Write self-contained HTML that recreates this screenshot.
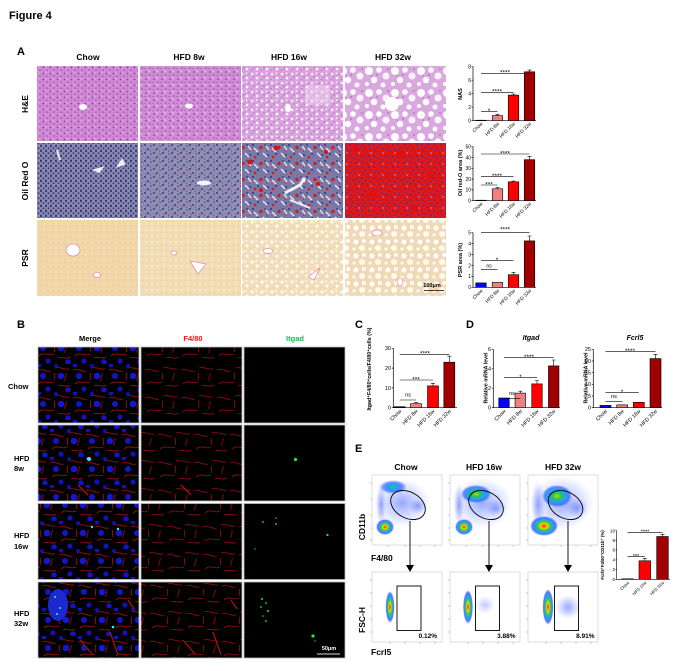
<!DOCTYPE html>
<html><head><meta charset="utf-8"><style>
html,body{margin:0;padding:0;background:#fff;}
svg{display:block;}
text{font-family:"Liberation Sans",Arial,sans-serif;}
</style></head><body>
<svg width="678" height="671" viewBox="0 0 678 671" xmlns="http://www.w3.org/2000/svg" xmlns:xlink="http://www.w3.org/1999/xlink">
<defs>
<pattern id="he1" width="7" height="6" patternUnits="userSpaceOnUse">
<rect width="7" height="6" fill="#d08ad5"/>
<circle cx="1.5" cy="1.5" r="0.9" fill="#8d3f9f"/><circle cx="5" cy="4" r="0.8" fill="#9b4cae"/>
<circle cx="4" cy="1" r="0.6" fill="#f0c6f1"/><circle cx="1" cy="4.8" r="0.5" fill="#a458b4"/>
</pattern>
<pattern id="he2" width="8" height="7" patternUnits="userSpaceOnUse">
<rect width="8" height="7" fill="#d08cd6"/>
<circle cx="2" cy="2" r="0.9" fill="#8d3f9f"/><circle cx="6" cy="5" r="0.8" fill="#9b4cae"/>
<circle cx="5" cy="1" r="0.7" fill="#f6dcf7"/><circle cx="1" cy="5.5" r="0.6" fill="#a458b4"/>
</pattern>
<pattern id="he3" width="10" height="9" patternUnits="userSpaceOnUse">
<rect width="10" height="9" fill="#d9a2de"/>
<circle cx="2" cy="2" r="1.3" fill="#fbeefc"/><circle cx="7" cy="6" r="1.3" fill="#fff"/>
<circle cx="6.5" cy="1.2" r="0.8" fill="#fff"/><circle cx="4" cy="5" r="0.6" fill="#9c52ad"/>
<circle cx="9" cy="2.5" r="0.5" fill="#9c52ad"/><circle cx="1.5" cy="7.5" r="0.5" fill="#a45ab4"/>
</pattern>
<pattern id="he4" width="26" height="22" patternUnits="userSpaceOnUse">
<rect width="26" height="22" fill="#d9a8df"/>
<circle cx="5" cy="5" r="4" fill="#fff"/><circle cx="15" cy="4" r="2.8" fill="#fff"/>
<circle cx="22" cy="10" r="3.5" fill="#fbf3fc"/><circle cx="10" cy="14" r="3.2" fill="#fff"/>
<circle cx="3" cy="18" r="2" fill="#fff"/><circle cx="19" cy="19" r="2.5" fill="#fff"/>
<circle cx="13" cy="9" r="0.7" fill="#9a50a8"/><circle cx="24" cy="3" r="0.7" fill="#9a50a8"/>
<circle cx="7" cy="10" r="0.6" fill="#9a50a8"/>
</pattern>
<pattern id="or1" width="5" height="5" patternUnits="userSpaceOnUse">
<rect width="5" height="5" fill="#8a8bb4"/>
<circle cx="1" cy="1" r="1.1" fill="#36376e"/><circle cx="3.5" cy="3.2" r="1" fill="#3d3e78"/>
<circle cx="1" cy="4.2" r="0.5" fill="#40417a"/>
</pattern>
<pattern id="or2" width="9" height="8" patternUnits="userSpaceOnUse">
<rect width="9" height="8" fill="#8e8eb6"/>
<circle cx="1" cy="1" r="1" fill="#3c3d75"/><circle cx="4" cy="5" r="1" fill="#3c3d75"/>
<circle cx="7" cy="2" r="0.8" fill="#44457c"/><circle cx="2" cy="6.5" r="0.6" fill="#44457c"/>
<circle cx="6.5" cy="7" r="0.6" fill="#d82020"/><circle cx="8.2" cy="4.5" r="0.4" fill="#e03030"/>
</pattern>
<pattern id="or3" width="18" height="16" patternUnits="userSpaceOnUse">
<rect width="18" height="16" fill="#7a78a6"/>
<circle cx="1" cy="1" r="1" fill="#35366e"/><circle cx="6" cy="10" r="1" fill="#35366e"/>
<circle cx="13" cy="1" r="0.9" fill="#3c3d75"/><circle cx="16" cy="11" r="1" fill="#3c3d75"/>
<path d="M2 4 L6 8 M11 9 L15 13 M14 2 L17 6" stroke="#ececf4" stroke-width="1.3"/>
<circle cx="9" cy="3.5" r="1.7" fill="#e01818"/><circle cx="3" cy="13" r="1.3" fill="#e01818"/>
<circle cx="15.5" cy="7" r="0.8" fill="#e02020"/>
</pattern>
<pattern id="or4" width="12" height="11" patternUnits="userSpaceOnUse">
<rect width="12" height="11" fill="#e31616"/>
<circle cx="2" cy="2" r="0.9" fill="#3434a8"/><circle cx="5" cy="4.5" r="0.8" fill="#3a3aaa"/>
<circle cx="9" cy="2" r="0.9" fill="#3434a8"/><circle cx="3" cy="8" r="0.9" fill="#3a3aaa"/>
<circle cx="7.5" cy="9" r="0.8" fill="#3434a8"/><circle cx="10.5" cy="6" r="0.9" fill="#3a3aaa"/>
<circle cx="0.8" cy="5" r="0.6" fill="#4a4ab0"/><circle cx="11" cy="10" r="0.6" fill="#d8c8e8"/>
</pattern>
<pattern id="ps1" width="6" height="6" patternUnits="userSpaceOnUse">
<rect width="6" height="6" fill="#f1d7a8"/><circle cx="2" cy="2" r="0.8" fill="#f7e6c6"/><circle cx="5" cy="4" r="0.6" fill="#e8c58f"/>
</pattern>
<pattern id="ps2" width="6" height="6" patternUnits="userSpaceOnUse">
<rect width="6" height="6" fill="#f2dcb4"/><circle cx="2" cy="2" r="0.9" fill="#fbf0de"/><circle cx="5" cy="4.5" r="0.6" fill="#e9c995"/>
</pattern>
<pattern id="ps3" width="10" height="10" patternUnits="userSpaceOnUse">
<rect width="10" height="10" fill="#f2ddb9"/><circle cx="2" cy="2" r="1.5" fill="#fff"/><circle cx="7" cy="6" r="1.5" fill="#fff"/>
<circle cx="6" cy="1" r="1" fill="#fffaf2"/><circle cx="3" cy="7.5" r="0.5" fill="#e8c593"/>
</pattern>
<pattern id="ps4" width="16" height="14" patternUnits="userSpaceOnUse">
<rect width="16" height="14" fill="#f0dab6"/><circle cx="4" cy="4" r="2.5" fill="#fff"/><circle cx="12" cy="3" r="2" fill="#fff"/>
<circle cx="10" cy="10" r="3" fill="#fffaf3"/><circle cx="2" cy="11" r="1.5" fill="#fff"/><circle cx="8" cy="6" r="0.4" fill="#e39a9a"/>
</pattern>
<pattern id="mg" width="36" height="28" patternUnits="userSpaceOnUse">
<rect width="36" height="28" fill="#000"/>
<path d="M1 6 C6 3 10 9 15 7 M19 4 C24 2 28 6 33 5 M3 20 C8 15 13 21 18 18 M22 22 C27 20 30 24 34 21 M18 9 C20 11 17 14 19 16 M30 9 C31 12 28 14 29 17" stroke="#9a0e0e" stroke-width="0.9" fill="none"/>
<circle cx="7" cy="12" r="3" fill="#1414c8"/><circle cx="25" cy="12" r="3.3" fill="#1616d0"/>
<circle cx="12" cy="25" r="2.6" fill="#1212b8"/><circle cx="32" cy="26" r="2.8" fill="#1414c4"/>
<circle cx="3" cy="1" r="2.4" fill="#1212b8"/><circle cx="20" cy="2" r="2" fill="#1010b0"/>
</pattern>
<pattern id="mg2" xlink:href="#mg" href="#mg" patternTransform="translate(13,9)"/>
<pattern id="mg3" xlink:href="#mg" href="#mg" patternTransform="translate(22,17)"/>
<pattern id="mg4" xlink:href="#mg" href="#mg" patternTransform="translate(5,20)"/>
<pattern id="rd" width="36" height="28" patternUnits="userSpaceOnUse">
<rect width="36" height="28" fill="#000"/>
<path d="M1 6 C6 3 10 9 15 7 M19 4 C24 2 28 6 33 5 M3 20 C8 15 13 21 18 18 M22 22 C27 20 30 24 34 21 M18 9 C20 11 17 14 19 16 M30 9 C31 12 28 14 29 17" stroke="#8a0c0c" stroke-width="0.9" fill="none"/>
</pattern>
<pattern id="rd2" xlink:href="#rd" href="#rd" patternTransform="translate(13,9)"/>
<pattern id="rd3" xlink:href="#rd" href="#rd" patternTransform="translate(22,17)"/>
<pattern id="rd4" xlink:href="#rd" href="#rd" patternTransform="translate(5,20)"/>
<radialGradient id="hot">
<stop offset="0" stop-color="#ff2000"/><stop offset="0.25" stop-color="#ffcc00"/><stop offset="0.45" stop-color="#30d040"/>
<stop offset="0.65" stop-color="#20a0ff"/><stop offset="0.85" stop-color="#2040ff" stop-opacity="0.7"/><stop offset="1" stop-color="#4060ff" stop-opacity="0"/>
</radialGradient>
<radialGradient id="cool">
<stop offset="0" stop-color="#30c070"/><stop offset="0.35" stop-color="#20a0ff"/>
<stop offset="0.7" stop-color="#2050ff" stop-opacity="0.6"/><stop offset="1" stop-color="#4060ff" stop-opacity="0"/>
</radialGradient>
<radialGradient id="grn">
<stop offset="0" stop-color="#a0e020"/><stop offset="0.3" stop-color="#30c050"/><stop offset="0.6" stop-color="#20a0ff"/>
<stop offset="0.85" stop-color="#2050ff" stop-opacity="0.6"/><stop offset="1" stop-color="#4060ff" stop-opacity="0"/>
</radialGradient>
<radialGradient id="dif">
<stop offset="0" stop-color="#3050ff" stop-opacity="0.5"/><stop offset="1" stop-color="#5070ff" stop-opacity="0"/>
</radialGradient>
</defs>

<!-- Title -->
<text x="9" y="19" font-size="11" font-weight="bold">Figure 4</text>
<text x="17" y="55" font-size="11" font-weight="bold">A</text>
<g font-size="8.5" font-weight="bold" text-anchor="middle">
<text x="88" y="60">Chow</text><text x="189" y="60">HFD 8w</text><text x="289" y="60">HFD 16w</text><text x="393" y="60">HFD 32w</text>
</g>
<g font-size="8.5" font-weight="bold" text-anchor="middle">
<text transform="translate(28,104) rotate(-90)">H&amp;E</text>
<text transform="translate(28,181) rotate(-90)">Oil Red O</text>
<text transform="translate(28,258) rotate(-90)">PSR</text>
</g>

<!-- Panel A images -->
<rect x="37" y="66" width="101" height="75" fill="url(#he1)"/>
<rect x="140" y="66" width="101" height="75" fill="url(#he2)"/>
<rect x="242" y="66" width="101" height="75" fill="url(#he3)"/>
<rect x="345" y="66" width="101" height="75" fill="url(#he4)"/>
<ellipse cx="83" cy="107" rx="4" ry="3" fill="#fff"/>
<ellipse cx="189" cy="106" rx="4" ry="2.5" fill="#fff"/>
<ellipse cx="288" cy="108" rx="3" ry="4" fill="#fff"/>
<circle cx="392" cy="104" r="7" fill="#fff"/>
<rect x="305" y="85" width="25" height="20" fill="#f0d8f2" opacity="0.5"/>

<rect x="37" y="143" width="101" height="75" fill="url(#or1)"/>
<rect x="140" y="143" width="101" height="75" fill="url(#or2)"/>
<rect x="242" y="143" width="101" height="75" fill="url(#or3)"/>
<rect x="345" y="143" width="101" height="75" fill="url(#or4)"/>
<path d="M122 160 L118 166 L124 164 Z M95 170 L102 168 L99 172 Z M57 150 L60 160" stroke="#eeeef4" stroke-width="2" fill="#eeeef4"/>
<ellipse cx="204" cy="183" rx="7" ry="2.5" fill="#f4f4f8"/>
<path d="M285 193 L300 185 L305 178" stroke="#f0f0f6" stroke-width="3" fill="none"/>
<path d="M290 200 L310 208" stroke="#f0f0f6" stroke-width="2" fill="none"/>
<g fill="#e01010"><circle cx="276" cy="148" r="2.5"/><circle cx="250" cy="162" r="2.5"/><circle cx="318" cy="184" r="2"/><circle cx="261" cy="190" r="2"/><circle cx="326" cy="152" r="2"/></g>
<g fill="#e01010"><circle cx="355" cy="148" r="3.5"/><circle cx="400" cy="155" r="4"/><circle cx="430" cy="175" r="3.5"/><circle cx="372" cy="195" r="4"/><circle cx="415" cy="208" r="3.5"/><circle cx="388" cy="176" r="3"/></g>

<rect x="37" y="220" width="101" height="76" fill="url(#ps1)"/>
<rect x="140" y="220" width="101" height="76" fill="url(#ps2)"/>
<rect x="242" y="220" width="101" height="76" fill="url(#ps3)"/>
<rect x="345" y="220" width="101" height="76" fill="url(#ps4)"/>
<g fill="#fff" stroke="#e07090" stroke-width="0.6">
<ellipse cx="73" cy="250" rx="7" ry="6"/><ellipse cx="97" cy="275" rx="3.5" ry="2.5"/>
<ellipse cx="174" cy="253" rx="3" ry="2"/><path d="M190 261 L206 264 L198 274 Z"/>
<ellipse cx="268" cy="251" rx="5" ry="2.5"/><path d="M308 277 L320 268 L314 280 Z"/>
<ellipse cx="377" cy="233" rx="5" ry="3"/><ellipse cx="400" cy="282" rx="3" ry="4"/>
</g>
<text x="432" y="287" font-size="5.5" font-weight="bold" text-anchor="middle">100μm</text>
<line x1="424" y1="290.5" x2="444" y2="290.5" stroke="#000" stroke-width="0.8"/>

<!-- Panel A charts -->
<g font-size="5" text-anchor="end">
<text x="471" y="122.5">0</text><text x="471" y="109">2</text><text x="471" y="95.5">4</text><text x="471" y="82">6</text><text x="471" y="68.5">8</text>
<text x="471" y="202.5">0</text><text x="471" y="191.7">10</text><text x="471" y="180.9">20</text><text x="471" y="170.1">30</text><text x="471" y="159.3">40</text><text x="471" y="148.5">50</text>
<text x="471" y="289.1">0</text><text x="471" y="278.2">1</text><text x="471" y="267.3">2</text><text x="471" y="256.3">3</text><text x="471" y="245.4">4</text><text x="471" y="234.5">5</text>
</g>
<g font-size="5.5" font-weight="bold" text-anchor="middle">
<text transform="translate(462,94) rotate(-90)">NAS</text>
<text transform="translate(462,173) rotate(-90)">Oil red-O area (%)</text>
<text transform="translate(462,260) rotate(-90)">PSR area (%)</text>
</g>
<g stroke="#000" stroke-width="0.7" fill="none">
<path d="M473 66.7 V120.7 H536 M471.5 66.7 H473 M471.5 80.2 H473 M471.5 93.7 H473 M471.5 107.2 H473 M471.5 120.7 H473"/>
<path d="M473 146.7 V200.7 H536 M471.5 146.7 H473 M471.5 157.5 H473 M471.5 168.3 H473 M471.5 179.1 H473 M471.5 189.9 H473 M471.5 200.7 H473"/>
<path d="M473 232.7 V287.3 H536 M471.5 232.7 H473 M471.5 243.6 H473 M471.5 254.5 H473 M471.5 265.5 H473 M471.5 276.4 H473 M471.5 287.3 H473"/>
</g>
<g stroke="#000" stroke-width="0.6">
<rect x="475.75" y="120.2" width="10.5" height="0.5" fill="#000"/>
<rect x="492.25" y="115.6" width="10.5" height="5.1" fill="#f08080"/>
<rect x="508.25" y="95.1" width="10.5" height="25.6" fill="#ff0000"/>
<rect x="524.25" y="71.8" width="10.5" height="48.9" fill="#a00000"/>
<path d="M497.5 115.6 V114.3 M495.5 114.3 H499.5 M513.5 95.1 V94 M511.5 94 H515.5 M529.5 71.8 V70.1 M527.5 70.1 H531.5" fill="none"/>
<rect x="475.75" y="200.2" width="10.5" height="0.5" fill="#000"/>
<rect x="492.25" y="188.8" width="10.5" height="11.9" fill="#f08080"/>
<rect x="508.25" y="181.8" width="10.5" height="18.9" fill="#ff0000"/>
<rect x="524.25" y="159.7" width="10.5" height="41" fill="#a00000"/>
<path d="M497.5 188.8 V187.7 M495.5 187.7 H499.5 M513.5 181.8 V181 M511.5 181 H515.5 M529.5 159.7 V156.4 M527.5 156.4 H531.5" fill="none"/>
<rect x="475.75" y="282.9" width="10.5" height="4.4" fill="#0000ff"/>
<rect x="492.25" y="282.4" width="10.5" height="4.9" fill="#f08080"/>
<rect x="508.25" y="274.7" width="10.5" height="12.6" fill="#ff0000"/>
<rect x="524.25" y="240.9" width="10.5" height="46.4" fill="#a00000"/>
<path d="M513.5 274.7 V272.6 M511.5 272.6 H515.5 M529.5 240.9 V236 M527.5 236 H531.5" fill="none"/>
<path d="M481 111.7 H497.5 M481 92.3 H513.5 M481 73.3 H529.5 M481 185 H497.5 M481 176.7 H513.5 M481 154 H529.5 M481 269.3 H497.5 M481 260.7 H513.5 M481 232.7 H529.5" fill="none"/>
</g>
<g font-size="6.5" text-anchor="middle">
<text x="489" y="113">*</text><text x="497" y="93.6">****</text><text x="505" y="74.6">****</text>
<text x="489" y="186.3">***</text><text x="497" y="178">****</text><text x="505" y="155.3">****</text>
<text x="489" y="267.5" font-size="5">ns</text><text x="497" y="262">*</text><text x="505" y="231.5">****</text>
</g>
<g font-size="4.8" text-anchor="end">
<text transform="translate(483,124) rotate(-45)">Chow</text><text transform="translate(499.5,124) rotate(-45)">HFD 8w</text><text transform="translate(515.5,124) rotate(-45)">HFD 16w</text><text transform="translate(531.5,124) rotate(-45)">HFD 32w</text>
<text transform="translate(483,204) rotate(-45)">Chow</text><text transform="translate(499.5,204) rotate(-45)">HFD 8w</text><text transform="translate(515.5,204) rotate(-45)">HFD 16w</text><text transform="translate(531.5,204) rotate(-45)">HFD 32w</text>
<text transform="translate(483,291) rotate(-45)">Chow</text><text transform="translate(499.5,291) rotate(-45)">HFD 8w</text><text transform="translate(515.5,291) rotate(-45)">HFD 16w</text><text transform="translate(531.5,291) rotate(-45)">HFD 32w</text>
</g>

<!-- Panel B -->
<text x="17" y="328" font-size="11" font-weight="bold">B</text>
<g font-size="7.5" font-weight="bold" text-anchor="middle">
<text x="90" y="341">Merge</text><text x="193" y="341" fill="#ff1010">F4/80</text><text x="295" y="341" fill="#10c040">Itgad</text>
</g>
<g font-size="7.5" font-weight="bold">
<text x="8" y="389">Chow</text>
<text x="14" y="461">HFD</text><text x="14" y="471">8w</text>
<text x="14" y="538">HFD</text><text x="14" y="549">16w</text>
<text x="14" y="616">HFD</text><text x="14" y="626">32w</text>
</g>
<g stroke="#bbb" stroke-width="0.8">
<rect x="38" y="347" width="101" height="76" fill="url(#mg)"/>
<rect x="141" y="347" width="101" height="76" fill="url(#rd)"/>
<rect x="244" y="347" width="101" height="76" fill="#000"/>
<rect x="38" y="425" width="101" height="76" fill="url(#mg2)"/>
<rect x="141" y="425" width="101" height="76" fill="url(#rd2)"/>
<rect x="244" y="425" width="101" height="76" fill="#000"/>
<rect x="38" y="503.5" width="101" height="76" fill="url(#mg3)"/>
<rect x="141" y="503.5" width="101" height="76" fill="url(#rd3)"/>
<rect x="244" y="503.5" width="101" height="76" fill="#000"/>
<rect x="38" y="582" width="101" height="76" fill="url(#mg4)"/>
<rect x="141" y="582" width="101" height="76" fill="url(#rd4)"/>
<rect x="244" y="582" width="101" height="76" fill="#000"/>
</g>
<g stroke="#a81010" stroke-width="1.3" fill="none">
<path d="M78 485 L88 495 M181 485 L191 495"/>
<path d="M80 640 L92 654 M110 632 L118 655 M183 640 L195 654 M213 632 L221 655 M128 600 L134 609 M231 600 L237 609"/>
</g>
<ellipse cx="58" cy="605" rx="10" ry="16" fill="#1c28d0"/>
<g fill="#40f0e0"><circle cx="89" cy="459" r="2"/><circle cx="55" cy="597" r="1"/><circle cx="60" cy="608" r="1"/><circle cx="57" cy="614" r="1"/><circle cx="113" cy="627" r="1.3"/><circle cx="92" cy="527" r="1.2"/><circle cx="118" cy="529" r="1.2"/></g>
<g fill="#20ee30">
<circle cx="295.5" cy="459.5" r="1.6"/>
<circle cx="263" cy="522" r="0.9"/><circle cx="276" cy="518" r="0.8"/><circle cx="276" cy="524" r="0.9"/><circle cx="327.5" cy="535" r="1.1"/><circle cx="255" cy="549" r="0.7"/>
<circle cx="262" cy="599" r="1"/><circle cx="266" cy="603" r="0.9"/><circle cx="261" cy="607" r="0.9"/><circle cx="268" cy="611" r="1"/><circle cx="263" cy="616" r="0.8"/><circle cx="266" cy="621" r="0.9"/><circle cx="313" cy="636" r="1.6"/><circle cx="315" cy="641" r="0.7"/>
</g>
<text x="329" y="650" font-size="5.5" font-weight="bold" fill="#fff" text-anchor="middle">50μm</text>
<line x1="317" y1="654" x2="340" y2="654" stroke="#ddd" stroke-width="1"/>

<!-- Panel C -->
<text x="355" y="328" font-size="11" font-weight="bold">C</text>
<text transform="translate(371,369) rotate(-90)" font-size="5.3" font-weight="bold" text-anchor="middle">Itgad⁺F4/80⁺cells/F4/80⁺cells (%)</text>
<g font-size="5.5" text-anchor="end">
<text x="391" y="409.6">0</text><text x="391" y="389.8">10</text><text x="391" y="370">20</text><text x="391" y="350.2">30</text>
<text x="491" y="409.6">0</text><text x="491" y="390.1">2</text><text x="491" y="370.7">4</text><text x="491" y="351.2">6</text>
<text x="591" y="409.6">0</text><text x="591" y="397.9">5</text><text x="591" y="386.2">10</text><text x="591" y="374.6">15</text><text x="591" y="362.9">20</text><text x="591" y="351.2">25</text>
</g>
<g stroke="#000" stroke-width="0.7" fill="none">
<path d="M393.3 348.3 V407.7 H457 M391.8 348.3 H393.3 M391.8 368.1 H393.3 M391.8 387.9 H393.3 M391.8 407.7 H393.3"/>
<path d="M493.3 349.3 V407.7 H560 M491.8 349.3 H493.3 M491.8 368.8 H493.3 M491.8 388.2 H493.3 M491.8 407.7 H493.3"/>
<path d="M593.3 349.3 V407.7 H662 M591.8 349.3 H593.3 M591.8 361 H593.3 M591.8 372.7 H593.3 M591.8 384.3 H593.3 M591.8 396 H593.3 M591.8 407.7 H593.3"/>
</g>
<g stroke="#000" stroke-width="0.6">
<rect x="394.2" y="406.7" width="11" height="1" fill="#000"/>
<rect x="410.5" y="403.7" width="11" height="4" fill="#f08080"/>
<rect x="427.5" y="385.9" width="11" height="21.8" fill="#ff0000"/>
<rect x="443.8" y="362.2" width="11" height="45.5" fill="#a00000"/>
<path d="M416 403.7 V402.7 M414 402.7 H418 M433 385.9 V383.3 M431 383.3 H435 M449.3 362.2 V356.2 M447.3 356.2 H451.3" fill="none"/>
<path d="M399.7 400 H416 M399.7 380 H433 M399.7 354.3 H449.3" fill="none"/>
<rect x="498.75" y="398" width="10.5" height="9.7" fill="#0000ff"/>
<rect x="515.05" y="393.1" width="10.5" height="14.6" fill="#f08080"/>
<rect x="531.75" y="383.9" width="10.5" height="23.8" fill="#ff0000"/>
<rect x="548.45" y="365.9" width="10.5" height="41.8" fill="#a00000"/>
<path d="M520.3 393.1 V391.2 M518.3 391.2 H522.3 M537 383.9 V380.5 M535 380.5 H539 M553.7 365.9 V360 M551.7 360 H555.7" fill="none"/>
<path d="M504 398.3 H520.3 M504 377.7 H537 M504 357.7 H553.7" fill="none"/>
<rect x="600" y="405.4" width="11" height="2.3" fill="#0000ff"/>
<rect x="616.7" y="404.9" width="11" height="2.8" fill="#f08080"/>
<rect x="633.3" y="402.3" width="11" height="5.4" fill="#ff0000"/>
<rect x="650" y="358.6" width="11" height="49.1" fill="#a00000"/>
<path d="M655.5 358.6 V354.4 M653.5 354.4 H657.5" fill="none"/>
<path d="M605.5 401.7 H622.2 M605.5 392.7 H638.8 M605.5 351.7 H655.5" fill="none"/>
</g>
<g font-size="6.5" text-anchor="middle">
<text x="408" y="396.5" font-size="5.5">ns</text><text x="416" y="381.3">***</text><text x="425" y="355.6">****</text>
<text x="512" y="394.8" font-size="5.5">ns</text><text x="520.5" y="379">*</text><text x="529" y="359">****</text>
<text x="614" y="398.2" font-size="5.5">ns</text><text x="622" y="394">*</text><text x="630" y="353">****</text>
</g>
<g font-size="5.3" text-anchor="end">
<text transform="translate(401.7,411.5) rotate(-45)">Chow</text><text transform="translate(418,411.5) rotate(-45)">HFD 8w</text><text transform="translate(435,411.5) rotate(-45)">HFD 16w</text><text transform="translate(451.3,411.5) rotate(-45)">HFD 32w</text>
<text transform="translate(506,411.5) rotate(-45)">Chow</text><text transform="translate(522.3,411.5) rotate(-45)">HFD 8w</text><text transform="translate(539,411.5) rotate(-45)">HFD 16w</text><text transform="translate(555.7,411.5) rotate(-45)">HFD 32w</text>
<text transform="translate(607.5,411.5) rotate(-45)">Chow</text><text transform="translate(624.2,411.5) rotate(-45)">HFD 8w</text><text transform="translate(640.8,411.5) rotate(-45)">HFD 16w</text><text transform="translate(657.5,411.5) rotate(-45)">HFD 32w</text>
</g>

<!-- Panel D -->
<text x="466" y="328" font-size="11" font-weight="bold">D</text>
<text x="531" y="340" font-size="7" font-weight="bold" font-style="italic" text-anchor="middle">Itgad</text>
<text x="635" y="340" font-size="7" font-weight="bold" font-style="italic" text-anchor="middle">Fcrl5</text>
<text transform="translate(487.5,378) rotate(-90)" font-size="5.3" font-weight="bold" text-anchor="middle">Relative mRNA level</text>
<text transform="translate(587.5,378) rotate(-90)" font-size="5.3" font-weight="bold" text-anchor="middle">Relative mRNA level</text>

<!-- Panel E -->
<text x="355" y="452" font-size="11" font-weight="bold">E</text>
<g font-size="8.5" font-weight="bold" text-anchor="middle">
<text x="406" y="470">Chow</text><text x="484" y="470">HFD 16w</text><text x="563" y="470">HFD 32w</text>
</g>
<g font-size="8.5" font-weight="bold">
<text transform="translate(365,527) rotate(-90)" text-anchor="middle">CD11b</text>
<text x="371" y="561">F4/80</text>
<text transform="translate(365,620) rotate(-90)" text-anchor="middle">FSC-H</text>
<text x="371" y="655">Fcrl5</text>
</g>
<g fill="#fff" stroke="#c8c8c8" stroke-width="0.6">
<rect x="372" y="475" width="70" height="70"/><rect x="450" y="475" width="70" height="70"/><rect x="528" y="475" width="70" height="70"/>
<rect x="372" y="572" width="70" height="70"/><rect x="450" y="572" width="70" height="70"/><rect x="528" y="572" width="70" height="70"/>
</g>
<g stroke="#999" stroke-width="0.5">
<path d="M370 483 H372 M370 499 H372 M370 515 H372 M370 528 H372 M370 540 H372 M448 483 H450 M448 499 H450 M448 515 H450 M448 528 H450 M448 540 H450 M526 483 H528 M526 499 H528 M526 515 H528 M526 528 H528 M526 540 H528"/>
<path d="M370 580 H372 M370 593 H372 M370 606 H372 M370 619 H372 M370 632 H372 M448 580 H450 M448 593 H450 M448 606 H450 M448 619 H450 M448 632 H450 M526 580 H528 M526 593 H528 M526 606 H528 M526 619 H528 M526 632 H528"/>
<path d="M388 545 V547 M405 545 V547 M420 545 V547 M435 545 V547 M466 545 V547 M483 545 V547 M498 545 V547 M513 545 V547 M544 545 V547 M561 545 V547 M576 545 V547 M591 545 V547"/>
<path d="M390 642 V644 M405 642 V644 M420 642 V644 M435 642 V644 M468 642 V644 M483 642 V644 M498 642 V644 M513 642 V644 M546 642 V644 M561 642 V644 M576 642 V644 M591 642 V644"/>
</g>
<!-- flow densities -->
<ellipse cx="402" cy="503" rx="28" ry="24" fill="url(#dif)"/>
<ellipse cx="381" cy="505" rx="5" ry="22" fill="url(#dif)"/>
<ellipse cx="393" cy="487" rx="14" ry="7" fill="url(#cool)"/>
<ellipse cx="418" cy="506" rx="9" ry="8" fill="url(#dif)"/>
<ellipse cx="385" cy="527" rx="9" ry="8" fill="url(#hot)"/>
<ellipse cx="482" cy="503" rx="30" ry="25" fill="url(#dif)"/>
<ellipse cx="459" cy="505" rx="5" ry="22" fill="url(#dif)"/>
<ellipse cx="476" cy="494" rx="15" ry="9" fill="url(#grn)"/>
<ellipse cx="496" cy="508" rx="10" ry="9" fill="url(#dif)"/>
<ellipse cx="464" cy="527" rx="9" ry="8" fill="url(#hot)"/>
<ellipse cx="562" cy="503" rx="32" ry="27" fill="url(#dif)"/>
<ellipse cx="538" cy="505" rx="7" ry="24" fill="url(#dif)"/>
<ellipse cx="557" cy="496" rx="15" ry="11" fill="url(#grn)"/>
<ellipse cx="577" cy="508" rx="11" ry="10" fill="url(#dif)"/>
<ellipse cx="544" cy="526" rx="14" ry="10" fill="url(#hot)"/>
<ellipse cx="390" cy="607" rx="4.5" ry="16" fill="url(#hot)"/>
<ellipse cx="468" cy="607" rx="5" ry="17" fill="url(#hot)"/>
<ellipse cx="485" cy="605" rx="10" ry="9" fill="url(#dif)" opacity="0.6"/>
<ellipse cx="548" cy="607" rx="5.5" ry="18" fill="url(#hot)"/>
<ellipse cx="568" cy="607" rx="13" ry="12" fill="url(#dif)"/>
<g fill="none" stroke="#000" stroke-width="0.9">
<ellipse cx="408" cy="505" rx="18.5" ry="13" transform="rotate(30 408 505)"/>
<ellipse cx="486" cy="505" rx="18.5" ry="13" transform="rotate(30 486 505)"/>
<ellipse cx="565.5" cy="505" rx="18.5" ry="13" transform="rotate(30 565.5 505)"/>
<rect x="397" y="586" width="24" height="44.5"/>
<rect x="475.5" y="586" width="24" height="44.5"/>
<rect x="554.5" y="586" width="24" height="44.5"/>
<path d="M410 521 V565 M489 521 V565 M568 521 V565"/>
</g>
<g fill="#000"><path d="M406 565 H414 L410 572 Z"/><path d="M485 565 H493 L489 572 Z"/><path d="M564 565 H572 L568 572 Z"/></g>
<g font-size="6.5" font-weight="bold" text-anchor="end">
<text x="437" y="638">0.12%</text><text x="515.5" y="638">3.88%</text><text x="594.5" y="638">8.91%</text>
</g>
<!-- Panel E chart -->
<text transform="translate(604,555) rotate(-90)" font-size="4.3" font-weight="bold" text-anchor="middle">Fcrl5⁺F4/80⁺CD11b⁺ (%)</text>
<g font-size="4.5" text-anchor="end">
<text x="615" y="580.9">0</text><text x="615" y="571.2">2</text><text x="615" y="561.5">4</text><text x="615" y="551.7">6</text><text x="615" y="542">8</text><text x="615" y="532.3">10</text>
</g>
<g stroke="#000" stroke-width="0.6">
<path d="M616.7 530.7 V579.3 H670 M615.5 530.7 H616.7 M615.5 540.4 H616.7 M615.5 550.1 H616.7 M615.5 559.9 H616.7 M615.5 569.6 H616.7 M615.5 579.3 H616.7" fill="none"/>
<rect x="621.7" y="578.8" width="11.6" height="0.5" fill="#000"/>
<rect x="639" y="560.8" width="11.6" height="18.5" fill="#ff0000"/>
<rect x="656.7" y="536.5" width="11.6" height="42.8" fill="#a00000"/>
<path d="M644.8 560.8 V558.4 M642.8 558.4 H646.8 M662.5 536.5 V534.6 M660.5 534.6 H664.5 M627.5 556.7 H644.8 M627.5 532.3 H662.5" fill="none"/>
</g>
<g font-size="5.5" text-anchor="middle"><text x="636" y="557.8">***</text><text x="645" y="533.4">****</text></g>
<g font-size="4.3" text-anchor="end">
<text transform="translate(629.5,583) rotate(-45)">Chow</text><text transform="translate(646.8,583) rotate(-45)">HFD 16w</text><text transform="translate(664.5,583) rotate(-45)">HFD 32w</text>
</g>
</svg>
</body></html>
